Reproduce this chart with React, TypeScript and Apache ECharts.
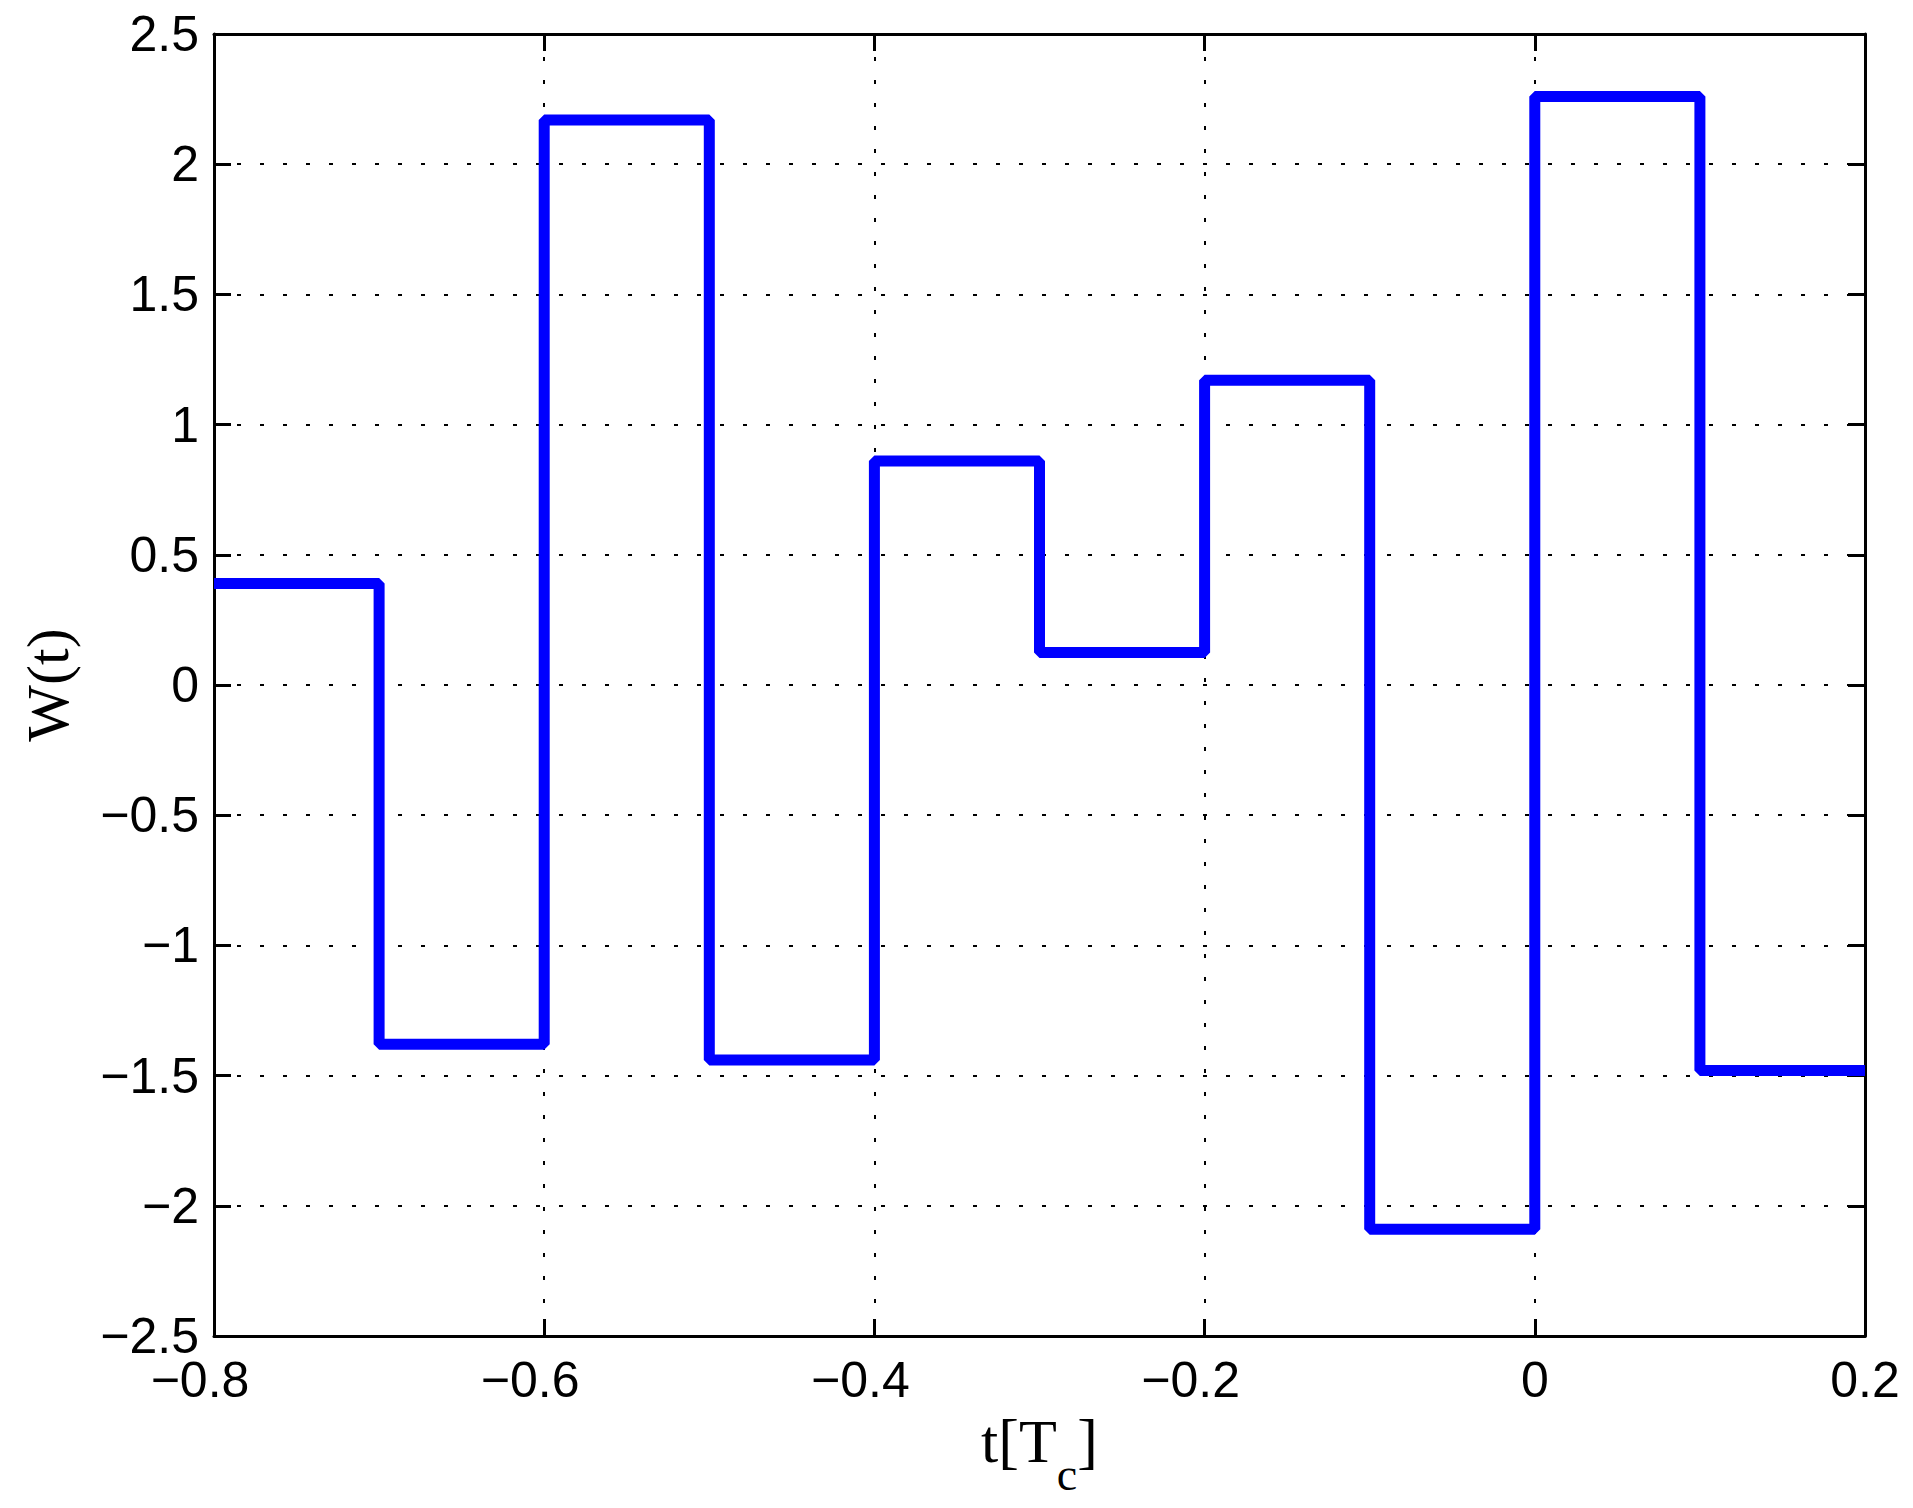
import React, { useEffect, useRef } from "react";
import * as echarts from "echarts";

// Chip boundaries on the time axis (units of Tc)
const tEdges = [-0.8, -0.7, -0.6, -0.5, -0.4, -0.3, -0.2, -0.1, 0, 0.1, 0.2];
// Level of W(t) within each chip
const levels = [0.39, -1.38, 2.17, -1.44, 0.86, 0.125, 1.17, -2.09, 2.26, -1.48];

const xMin = -0.8;
const xMax = 0.2;
const xStep = 0.2;
const yMin = -2.5;
const yMax = 2.5;
const yStep = 0.5;

const fmt = (v: number) => {
  const r = Math.round(v * 10) / 10;
  if (r === 0) return "0";
  return r < 0 ? "\u2212" + String(Math.abs(r)) : String(r);
};

export default function App() {
  const ref = useRef<HTMLDivElement>(null);
  useEffect(() => {
    if (!ref.current) return;
    const chart = echarts.init(ref.current, undefined, { renderer: "svg" });
    const data: [number, number][] = levels.map((v, i) => [tEdges[i], v]);
    data.push([tEdges[tEdges.length - 1], levels[levels.length - 1]]);

    const axisLine = { show: true, onZero: false, lineStyle: { color: "#000", width: 3 } };
    const axisTick = { show: true, inside: true, length: 17, lineStyle: { color: "#000", width: 3 } };
    const splitLine = {
      show: true,
      lineStyle: { color: "#000", width: 2, type: [4, 19] as number[] },
    };
    const labelFont = { fontFamily: "Liberation Sans, Arial, sans-serif", fontSize: 50, color: "#000" };
    const serif = "Liberation Serif, Times New Roman, serif";

    chart.setOption({
      animation: false,
      backgroundColor: "#fff",
      grid: { left: 214, right: 48, top: 34, bottom: 172, containLabel: false },
      xAxis: [
        {
          type: "value",
          min: xMin,
          max: xMax,
          interval: xStep,
          position: "bottom",
          axisLine,
          axisTick,
          splitLine,
          axisLabel: {
            ...labelFont,
            lineHeight: 40,
            margin: 24,
            formatter: (v: number) => {
              const s = fmt(v);
              return s.startsWith("\u2212") ? "{n|" + s + "}" : "{p|" + s + "}";
            },
            rich: {
              n: { ...labelFont, lineHeight: 40, padding: [0, 28, 0, 0] },
              p: { ...labelFont, lineHeight: 40 },
            },
          },
          name: "{a|t[T}{b|c}{a|]}",
          nameLocation: "middle",
          nameGap: 71,
          nameTextStyle: {
            rich: {
              a: {
                fontFamily: serif,
                fontSize: 62,
                lineHeight: 62,
                color: "#000",
                padding: [0, 0, 30, 0],
              },
              b: {
                fontFamily: serif,
                fontSize: 46,
                lineHeight: 46,
                color: "#000",
                padding: [38, 0, 0, 0],
              },
            },
          },
        },
        {
          type: "value",
          min: xMin,
          max: xMax,
          interval: xStep,
          position: "top",
          axisLine,
          axisTick,
          splitLine: { show: false },
          axisLabel: { show: false },
        },
      ],
      yAxis: [
        {
          type: "value",
          min: yMin,
          max: yMax,
          interval: yStep,
          position: "left",
          axisLine,
          axisTick,
          splitLine,
          axisLabel: { ...labelFont, lineHeight: 36, margin: 15, formatter: (v: number) => fmt(v) },
          name: "W(t)",
          nameLocation: "middle",
          nameGap: 136,
          nameTextStyle: {
            fontFamily: serif,
            fontSize: 60,
            color: "#000",
          },
        },
        {
          type: "value",
          min: yMin,
          max: yMax,
          interval: yStep,
          position: "right",
          axisLine,
          axisTick,
          splitLine: { show: false },
          axisLabel: { show: false },
        },
      ],
      series: [
        {
          type: "line",
          xAxisIndex: 0,
          yAxisIndex: 0,
          step: "end",
          data,
          showSymbol: false,
          symbol: "none",
          lineStyle: { color: "#0000ff", width: 11 },
          itemStyle: { color: "#0000ff" },
        },
      ],
    });
    return () => chart.dispose();
  }, []);
  return (
    <div
      ref={ref}
      style={{ position: "absolute", left: 0, top: 0, width: 1913, height: 1508, background: "#fff" }}
    />
  );
}
